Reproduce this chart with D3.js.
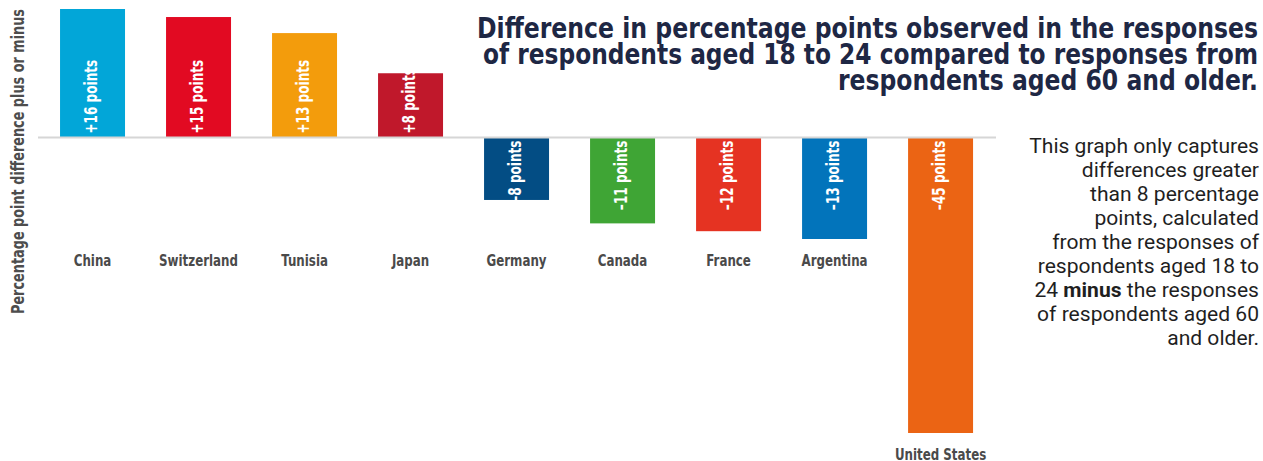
<!DOCTYPE html>
<html>
<head>
<meta charset="utf-8">
<script src="https://cdn.jsdelivr.net/npm/d3@7/dist/d3.min.js"></script>
<style>
  html, body { margin: 0; padding: 0; background: #ffffff; }
  svg { display: block; }
</style>
</head>
<body>
<svg id="chart" width="1263" height="461"></svg>
<script>
// ---- data ----
const countries = ["China", "Switzerland", "Tunisia", "Japan", "Germany", "Canada", "France", "Argentina", "United States"];
const differences = [16, 15, 13, 8, -8, -11, -12, -13, -45];
const barColors = ["#02a6d8", "#e20a22", "#f39c0c", "#c0182b", "#034d84", "#3fa535", "#e53322", "#0274bb", "#eb6414"];
const valueLabels = ["+16 points", "+15 points", "+13 points", "+8 points", "\u20138 points", "\u201311 points", "\u201312 points", "\u201313 points", "\u201345 points"];
const titleLines = [
  "Difference in percentage points observed in the responses",
  "of respondents aged 18 to 24 compared to responses from",
  "respondents aged 60 and older."
];
const yAxisTitle = "Percentage point difference plus or minus";
const noteLines = [
  ["This graph only captures"],
  ["differences greater"],
  ["than 8 percentage"],
  ["points, calculated"],
  ["from the responses of"],
  ["respondents aged 18 to"],
  ["24 ", "minus", " the responses"],
  ["of respondents aged 60"],
  ["and older."]
];

// ---- layout ----
const condensedFont = "'DejaVu Sans', 'Liberation Sans', Roboto, sans-serif";
const svg = d3.select("#chart");

// squeeze text horizontally to mimic a condensed typeface
function condense(sel, factor) {
  sel.each(function () {
    const w = this.getComputedTextLength();
    d3.select(this).attr("textLength", w * factor).attr("lengthAdjust", "spacingAndGlyphs");
  });
}
function fitTo(sel, widths) {
  sel.each(function (d, i) {
    d3.select(this).attr("textLength", widths[i]).attr("lengthAdjust", "spacingAndGlyphs");
  });
}

const x = d3.scaleBand()
  .domain(countries)
  .range([39.9, 993.2])
  .paddingInner(0.387)
  .paddingOuter(0.19);

// piecewise-linear value scale (the original graphic compresses the long negative bar)
const y = d3.scaleLinear()
  .domain([-45, -13, 0, 16])
  .range([433, 239, 137.5, 9]);

const data = countries.map((c, i) => ({ country: c, value: differences[i], color: barColors[i], label: valueLabels[i] }));

// bars
svg.append("g").selectAll("rect")
  .data(data)
  .join("rect")
  .attr("x", d => x(d.country))
  .attr("width", x.bandwidth())
  .attr("y", d => Math.min(y(d.value), y(0)))
  .attr("height", d => Math.abs(y(d.value) - y(0)))
  .attr("fill", d => d.color);

// zero line
svg.append("line")
  .attr("x1", 38).attr("x2", 996)
  .attr("y1", y(0)).attr("y2", y(0))
  .attr("stroke", "#d6d6d6")
  .attr("stroke-width", 2);

// value labels (rotated)
const vl = svg.append("g").selectAll("text")
  .data(data)
  .join("text")
  .attr("transform", d => {
    const cx = x(d.country) + x.bandwidth() / 2 + 4;
    const yy = d.value >= 0 ? y(0) - 4 : y(0) + 3;
    return `translate(${cx},${yy}) rotate(-90)`;
  })
  .attr("text-anchor", d => d.value >= 0 ? "start" : "end")
  .attr("font-family", condensedFont)
  .attr("font-weight", "bold")
  .attr("font-size", 17)
  .attr("fill", "#ffffff")
  .text(d => d.label);
condense(vl, 0.71);

// category labels
const cl = svg.append("g").selectAll("text")
  .data(data)
  .join("text")
  .attr("x", d => x(d.country) + x.bandwidth() / 2)
  .attr("y", d => d.value < -30 ? y(d.value) + 27 : 266)
  .attr("text-anchor", "middle")
  .attr("font-family", condensedFont)
  .attr("font-weight", "bold")
  .attr("font-size", 16)
  .attr("fill", "#4a4a4a")
  .text(d => d.country);
condense(cl, 0.74);

// y axis title
const yt = svg.append("text")
  .attr("transform", "translate(24,314) rotate(-90)")
  .attr("text-anchor", "start")
  .attr("font-family", condensedFont)
  .attr("font-weight", "bold")
  .attr("font-size", 17)
  .attr("fill", "#4d4d4d")
  .text(yAxisTitle);
fitTo(yt, [305]);

// title
const titleBaselines = [38, 64, 90];
const tt = svg.append("g").selectAll("text")
  .data(titleLines)
  .join("text")
  .attr("x", 1258)
  .attr("y", (d, i) => titleBaselines[i])
  .attr("text-anchor", "end")
  .attr("font-family", condensedFont)
  .attr("font-weight", "bold")
  .attr("font-size", 28)
  .attr("fill", "#1e2744")
  .text(d => d);
fitTo(tt, [781, 775, 420]);

// note
const note = svg.append("g");
noteLines.forEach((parts, i) => {
  const t = note.append("text")
    .attr("x", 1259)
    .attr("y", 153 + i * 24)
    .attr("text-anchor", "end")
    .attr("font-family", "Roboto, 'Noto Sans', sans-serif")
    .attr("font-size", 19.5)
    .attr("fill", "#1f1f1f");
  parts.forEach(p => {
    t.append("tspan")
      .attr("font-weight", p === "minus" ? "bold" : "normal")
      .text(p);
  });
  condense(t, 1.08);
});
</script>
</body>
</html>
